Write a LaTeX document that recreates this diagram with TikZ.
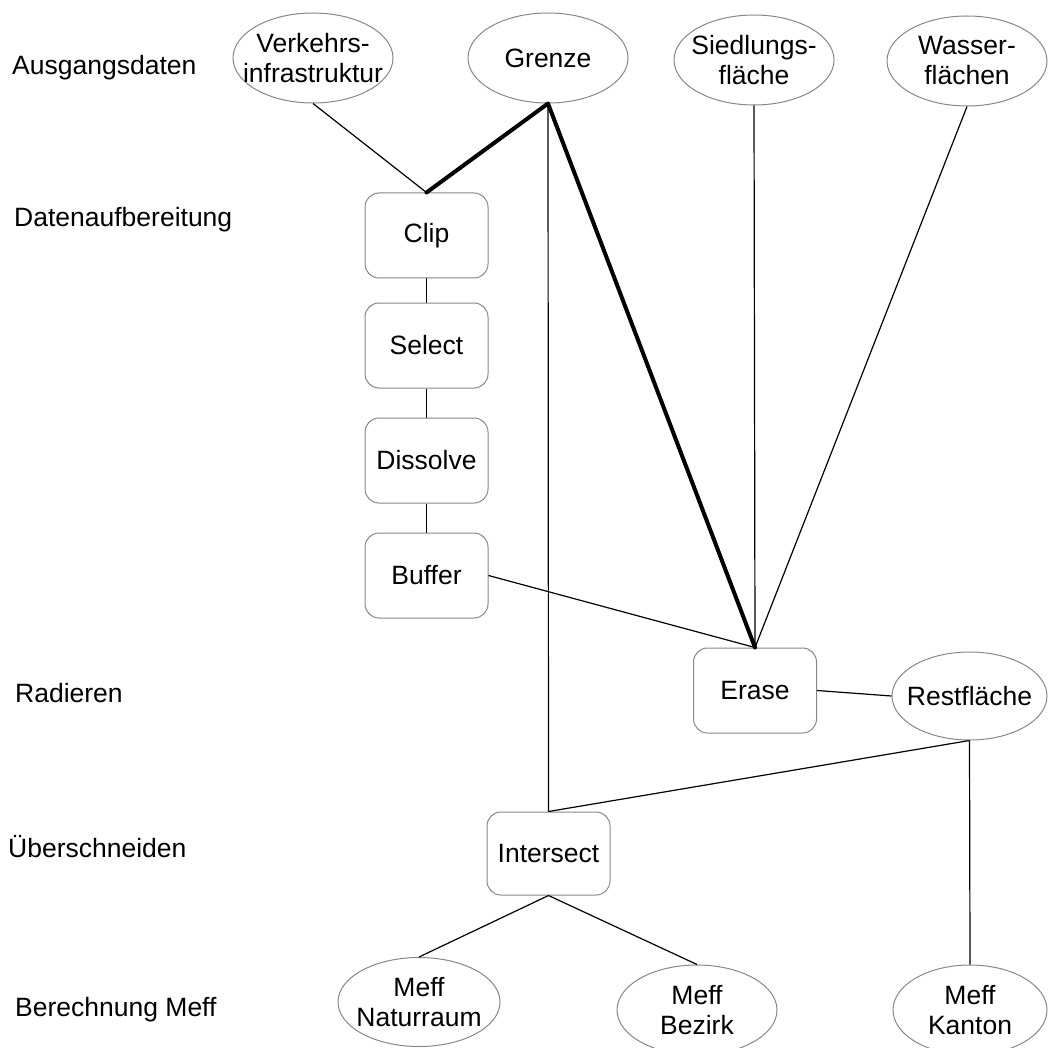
\documentclass[tikz,border=0pt]{standalone}
\usepackage{fontspec}
\setmainfont{Liberation Sans}
\usetikzlibrary{shapes.geometric}
% zero-width centred line, so the outline keeps its own fixed size
\newcommand{\zl}[1]{\makebox[0pt][c]{#1}}
\begin{document}
\begin{tikzpicture}[x=1pt,y=-1pt,
  every node/.style={font=\fontsize{26.5}{30}\selectfont, text=black},
  outline/.style={draw={rgb,255:red,135;green,135;blue,135}, line width=1pt},
  oval/.style={outline, ellipse, inner sep=0pt, align=center,
    minimum width=160pt, minimum height=90pt},
  stepbox/.style={outline, rectangle, rounded corners=14pt, inner sep=0pt,
    minimum width=123pt, minimum height=85pt},
  lane/.style={anchor=west, inner sep=0pt},
  link/.style={draw=black, line width=1.2pt},
  heavy/.style={draw=black, line width=4pt, line join=round, line cap=round}]
\useasboundingbox (0,0) rectangle (1048,1048);

% stage labels
\node[lane] (l1) at (12,68) {Ausgangsdaten};
\node[lane] (l2) at (14,220) {Datenaufbereitung};
\node[lane] (l3) at (15,693) {Radieren};
\node[lane] (l4) at (8,847) {Überschneiden};
\node[lane] (l5) at (15,1010) {Berechnung Meff};

% input data
\node[oval] (verk) at (313,58) {\zl{Verkehrs-}\\\zl{infrastruktur}};
\node[oval] (grenze) at (548,58) {\zl{Grenze}};
\node[oval] (sied) at (754,60) {\zl{Siedlungs-}\\\zl{fläche}};
\node[oval] (wasser) at (967,61) {\zl{Wasser-}\\\zl{flächen}};

% preparation chain
\node[stepbox] (clip) at (426.5,235.5) {Clip};
\node[stepbox] (select) at (426.5,345.5) {Select};
\node[stepbox] (dissolve) at (426.5,460.5) {Dissolve};
\node[stepbox] (buffer) at (426.5,575.5) {Buffer};

% erase and remainder
\node[stepbox] (erase) at (755,690.5) {Erase};
\node[oval, minimum width=155pt, minimum height=88pt] (rest) at (969.5,696) {\zl{Restfläche}};

% intersection
\node[stepbox, minimum height=83pt] (inter) at (548.5,853.5) {Intersect};

% results
\node[oval, minimum width=162pt, minimum height=89pt] (natur) at (419,1002) {\zl{Meff}\\\zl{Naturraum}};
\node[oval] (bezirk) at (697,1010) {\zl{Meff}\\\zl{Bezirk}};
\node[oval, minimum width=154pt] (kanton) at (970,1010) {\zl{Meff}\\\zl{Kanton}};

% connectors
\draw[link] (verk.south) -- (clip.north);
\draw[heavy] (clip.north) -- (grenze.south) -- (erase.north);
\draw[link] (grenze.south) -- (inter.north);
\draw[link] (sied.south) -- (erase.north);
\draw[link] (wasser.south) -- (erase.north);
\draw[link] (clip.south) -- (select.north);
\draw[link] (select.south) -- (dissolve.north);
\draw[link] (dissolve.south) -- (buffer.north);
\draw[link] (buffer.east) -- (erase.north);
\draw[link] (erase.east) -- (rest.west);
\draw[link] (rest.south) -- (inter.north);
\draw[link] (rest.south) -- (kanton.north);
\draw[link] (inter.south) -- (natur.north);
\draw[link] (inter.south) -- (bezirk.north);
\end{tikzpicture}
\end{document}
